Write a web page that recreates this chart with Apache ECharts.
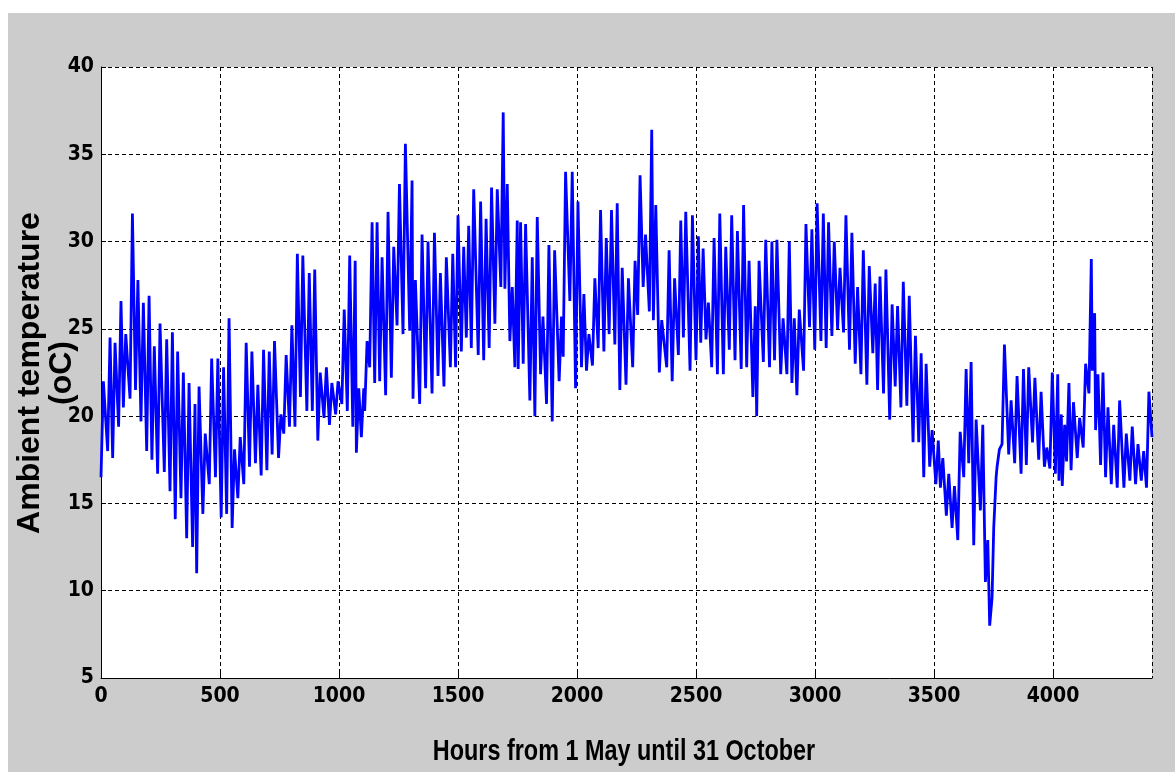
<!DOCTYPE html>
<html>
<head>
<meta charset="utf-8">
<script src="https://cdn.jsdelivr.net/npm/echarts@6/dist/echarts.min.js"></script>
<style>
  html, body { margin: 0; padding: 0; background: #ffffff; width: 1175px; height: 772px; overflow: hidden; }
  #chart { position: absolute; left: 8px; top: 13px; width: 1167px; height: 759px; background: #cccccc; }
</style>
</head>
<body>
<div id="chart"></div>
<script>
// ---- data ----
// hour of each daily peak, the daily high at that peak and the low just before it
const peakHours = [
  10,38,59,84,104,132,155,178,202,224,248,276,300,322,346,370,395,412,438,465,491,
  515,538,561,585,610,634,659,683,707,729,756,778,802,825,848,875,898,921,947,970,996,
  1022,1045,1068,1083,1104,1118,1139,1160,1181,1206,1230,1254,1279,1307,1321,1349,1374,1401,1426,1451,1478,1500,
  1524,1545,1566,1595,1618,1641,1665,1690,1707,1728,1749,1763,1784,1812,1833,1857,1882,1906,1935,1952,1980,2004,
  2029,2050,2075,2099,2123,2145,2169,2190,2216,2244,2265,2288,2314,2331,2356,2387,2410,2436,2457,2485,2510,
  2530,2552,2576,2600,2625,2650,2674,2700,2723,2749,2765,2793,2819,2840,2866,2892,2913,2934,2962,2987,3009,
  3035,3057,3081,3105,3130,3155,3179,3203,3228,3253,3273,3298,3324,3347,3371,3396,3422,3446,3467,3492,3518,
  3537,3562,3586,3610,3635,3656,3677,3705,3726,3744,3761,3775,3796,3824,3849,3876,3898,3924,3950,3974,3997,4020,
  4035,4049,4067,4086,4112,4137,4161,4175,4189,4210,4231,4255,4280,4308,4333,4357,4381,4403
];
const dailyHighs = [
  22,24.5,24.2,26.6,24.7,31.6,27.8,26.5,26.9,24,25.3,24.4,24.8,23.7,22.5,21.9,20.7,21.7,19,23.3,23.3,
  22.8,25.6,18.1,18.8,24.2,23.7,21.8,23.8,23.7,24.3,20.1,23.5,25.2,29.3,29.2,28.2,28.4,22.5,22.8,21.9,22,
  26.1,29.2,28.9,21.6,21.6,24.3,31.1,31.1,29.1,31.7,29.7,33.3,35.6,33.5,27.8,30.4,30,30.5,28.2,29.1,29.3,31.5,
  29.7,30.9,33,32.3,31.3,33.1,33,37.4,33.3,27.4,31.2,31.1,31,29.1,31.4,25.7,29.8,29.5,25.7,34,34,32.3,
  27,24.7,27.9,31.8,30.2,31.8,32.2,28.5,27.9,28.9,33.8,30.4,36.4,32.1,25.5,29.5,27.9,31.2,31.7,31.5,30.3,
  29.6,26.5,30.2,31.6,29.7,31.5,30.6,32.1,28.9,26.3,28.9,30.1,30,30.1,25.6,30,25.6,26.1,31,30.7,32.2,
  31.6,31.1,30,28.5,31.5,30.5,27.4,29.5,28.6,27.6,28,28.4,26.4,26.3,27.7,26.9,24.6,23.6,23,19.2,18.6,
  17.6,16.7,16,19.1,22.7,23.1,19.8,19.5,12.9,9.6,16.5,18.1,24.1,20.9,22.3,22.7,22.8,22.2,21.4,18.2,22.5,22.4,
  20.1,19.5,21.9,20.8,19.9,23,29,25.9,22.4,22.5,20.5,19.5,20.9,19,19.4,18.4,18,21.4
];
const dailyLows = [
  16.5,18,17.6,19.4,20.5,21,21.5,19.7,18,17.5,16.7,16.8,15.7,14.1,15.3,13,12.5,11,14.4,16.1,16.5,
  14.2,14.4,13.6,15.3,16.1,17.1,17.3,16.6,16.9,17.8,17.6,19,19.4,19.4,21.1,20.3,20.3,18.6,19.9,19.5,20.1,
  20.7,20.3,19.4,17.9,18.8,20.3,22.8,21.9,22,21.2,22.2,25.2,24.7,24.9,21,20.7,21.6,21.3,22.3,21.7,22.8,22.8,
  23.7,24.5,23.9,23.5,23.2,23.9,25.3,27.4,27.3,24.3,22.8,22.7,23,20.9,20,22.4,20.7,19.7,22,23.4,26.6,21.6,
  22.8,22.6,22.9,23.9,23.7,24.7,24.1,21.5,21.8,22.8,25.8,27.4,26,25.5,22.5,22.8,22,23.5,24.5,22.6,23.2,
  24.2,24.4,22.8,22.4,22.4,23.8,23.2,22.7,22.8,21.1,20,23.1,22.8,23.2,22.4,22.4,21.9,21.2,22.6,25.1,23.8,
  24.3,23.9,24.6,25,24.8,23.8,23,22.4,21.8,23.6,21.5,21.3,19.8,21.7,20.5,20.6,18.5,18.5,16.5,17.1,16.1,
  15.9,14.3,13.6,12.9,16.5,17.3,12.6,14.6,10.5,8,13.6,17.1,18.4,17.8,17.3,16.7,17.2,18.5,17.5,17.1,17,16.7,
  16.3,16,17.4,16.9,17.6,18.2,21.3,22.6,19.2,17.2,16.5,16.1,15.9,15.9,16.3,16.1,16.3,15.9
];
const lowLeadHours = 10;      // a daily low comes this many hours before the peak
const lastHour = 4416;
const lastTemp = 18.8;

const xTicks = [0, 500, 1000, 1500, 2000, 2500, 3000, 3500, 4000];
const yTicks = [5, 10, 15, 20, 25, 30, 35, 40];
const xTitle = 'Hours from 1 May until 31 October';
const yTitle = 'Ambient temperature\n(oC)';

// ---- build the series ----
const points = [];
for (let i = 0; i < peakHours.length; i++) {
  points.push([Math.max(0, peakHours[i] - lowLeadHours), dailyLows[i]]);
  points.push([peakHours[i], dailyHighs[i]]);
}
points.push([lastHour, lastTemp]);

const narrow = '"Liberation Sans Narrow", "DejaVu Sans Condensed", sans-serif';
const tickFont = { fontFamily: narrow, fontWeight: 'bold', fontSize: 21, color: '#000' };
const dash = { color: '#000', width: 1, type: [4, 3] };

const chart = echarts.init(document.getElementById('chart'), null, { renderer: 'canvas' });
chart.setOption({
  animation: false,
  backgroundColor: 'transparent',
  grid: { left: 93, top: 54, right: 23, bottom: 94, outerBoundsMode: 'none', containLabel: false,
          show: true, backgroundColor: '#ffffff', borderWidth: 0 },
  graphic: [{
    type: 'text', x: 616, y: 739, scaleX: 0.78,
    style: { text: xTitle, font: 'bold 30px "Liberation Sans", Arial, sans-serif', fill: '#000',
             textAlign: 'center', textVerticalAlign: 'middle' }
  }, {
    type: 'text', x: 38, y: 360, rotation: Math.PI / 2,
    style: { text: yTitle, font: 'bold 32px "Liberation Sans", Arial, sans-serif', fill: '#000',
             lineHeight: 32, textAlign: 'center', textVerticalAlign: 'middle' }
  }],
  xAxis: {
    type: 'value', min: xTicks[0], max: lastHour, interval: xTicks[1] - xTicks[0],
    axisLine: { show: true, lineStyle: { color: '#000', width: 1 } },
    axisTick: { show: true, inside: true, length: 5, lineStyle: { color: '#000' } },
    axisLabel: Object.assign({ margin: 8, showMaxLabel: false,
      formatter: v => xTicks.includes(v) ? String(v) : '' }, tickFont),
    splitLine: { show: true, lineStyle: dash }
  },
  yAxis: {
    type: 'value', min: yTicks[0], max: yTicks[yTicks.length - 1], interval: yTicks[1] - yTicks[0],
    axisLine: { show: true, lineStyle: { color: '#000', width: 1 } },
    axisTick: { show: true, inside: true, length: 5, lineStyle: { color: '#000' } },
    axisLabel: Object.assign({ margin: 7,
      formatter: v => yTicks.includes(v) ? String(v) : '' }, tickFont),
    splitLine: { show: true, lineStyle: dash }
  },
  series: [{
    type: 'line', data: points, showSymbol: false, sampling: 'none',
    lineStyle: { color: '#0000ff', width: 2.8 }, itemStyle: { color: '#0000ff' }, z: 3
  }]
});
</script>
</body>
</html>
